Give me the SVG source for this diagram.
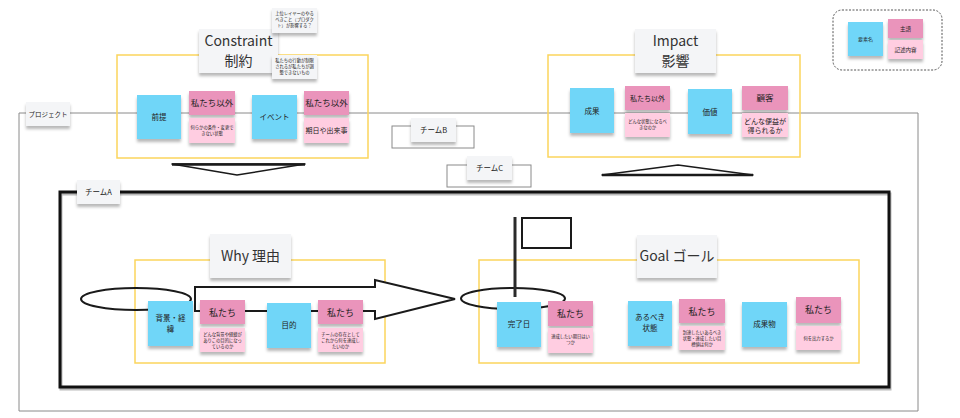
<svg xmlns="http://www.w3.org/2000/svg" width="960" height="418" viewBox="0 0 960 418">
<defs>
<filter id="sh" x="-20%" y="-20%" width="140%" height="170%">
<feDropShadow dx="0" dy="3" stdDeviation="1.5" flood-color="#000" flood-opacity="0.28"/>
</filter>
<style>
.blue{fill:#6fd6f8;filter:url(#sh)}
.pink{fill:#ea94bb;filter:url(#sh)}
.lpink{fill:#ffcde1;filter:url(#sh)}
.ttl{fill:#f4f5f7;filter:url(#sh)}
.yb{fill:none;stroke:#fbd55c;stroke-width:1.5}
.t{font-family:"Noto Sans CJK JP","Noto Sans",sans-serif;fill:#222;text-anchor:middle}
.s{font-size:4.3px}
.m{font-size:7.5px}
.p{font-size:8.5px}
.big{font-size:14px;fill:#333}
.gray{fill:none;stroke:#8a8a8a;stroke-width:1}
.blk{fill:none;stroke:#1a1a1a;stroke-width:2}
</style>
</defs>
<rect width="960" height="418" fill="#fff"/>

<g id="project">
<path d="M19 411 V113 H918 V411 Z" class="gray" stroke="#9a9a9a"/>
</g>

<g id="constraint-frame"><rect x="117" y="55" width="251" height="103" class="yb"/></g>
<g id="impact-frame"><rect x="548" y="55" width="252" height="102" class="yb"/></g>

<g id="teamB-frame"><rect x="392" y="126" width="82" height="22" class="gray"/></g>
<g id="teamC-frame"><rect x="447" y="165" width="84" height="22" class="gray"/></g>

<g id="teamA-frame"><rect x="61" y="194" width="829" height="195" fill="none" stroke="#bbb" stroke-width="3"/><rect x="60" y="192" width="829" height="195" fill="none" stroke="#111" stroke-width="3"/></g>

<g id="why-frame"><rect x="135" y="260" width="250" height="103" class="yb"/></g>
<g id="goal-frame"><rect x="479" y="260" width="380" height="103" class="yb"/></g>

<g id="connectors">
<polygon points="172,164 305,164 237,175" fill="#fff" stroke="#1a1a1a" stroke-width="1.5" stroke-linejoin="round"/>
<line x1="172" y1="164.5" x2="305" y2="164.5" stroke="#1a1a1a" stroke-width="2.5"/>
<polygon points="678,165 753,175 602,175" fill="#fff" stroke="#1a1a1a" stroke-width="1.5" stroke-linejoin="round"/>
<line x1="602" y1="175" x2="753" y2="175" stroke="#1a1a1a" stroke-width="2.5"/>
<ellipse cx="136" cy="299" rx="55" ry="11" class="blk"/>
<polygon points="195,287 375,287 375,280 455,299 375,319 375,311 195,311" fill="#fff" stroke="#1a1a1a" stroke-width="2" stroke-linejoin="miter"/>
<ellipse cx="513" cy="298.5" rx="52" ry="10.5" class="blk"/>
<line x1="515" y1="217" x2="515" y2="297" stroke="#2a2a2a" stroke-width="3"/>
<rect x="522" y="218" width="49" height="30" fill="#fff" stroke="#1a1a1a" stroke-width="2"/>
</g>

<g id="project-label"><rect x="26" y="102" width="44" height="24" class="ttl"/><text x="48" y="116.5" class="t" font-size="6.5">プロジェクト</text></g>
<g id="teamB-label"><rect x="411" y="118" width="45" height="24" class="ttl"/><text x="433.5" y="133" class="t m">チームB</text></g>
<g id="teamC-label"><rect x="467" y="156" width="45" height="24" class="ttl"/><text x="489.5" y="171" class="t m">チームC</text></g>
<g id="teamA-label"><rect x="77" y="180" width="43" height="24" class="ttl"/><text x="98.5" y="195" class="t m">チームA</text></g>

<g id="constraint-title"><rect x="199" y="29" width="79" height="44" class="ttl"/><text x="238.5" y="46" class="t big" font-size="12.5">Constraint</text><text x="238.5" y="66" class="t big" font-size="13">制約</text></g>
<g id="note-upper"><rect x="272" y="8" width="45" height="25" class="ttl"/><text class="t s" x="294.5" y="15"><tspan x="294.5">上位レイヤーのやる</tspan><tspan x="294.5" dy="6">べきこと（プロダク</tspan><tspan x="294.5" dy="6">ト）が影響する？</tspan></text></g>
<g id="note-limit"><rect x="272" y="55" width="45" height="24" class="ttl"/><text class="t s" x="294.5" y="62"><tspan x="294.5">私たちの行動が制限</tspan><tspan x="294.5" dy="6">されるが私たちが調</tspan><tspan x="294.5" dy="6">整できないもの</tspan></text></g>

<g id="c-premise"><rect x="137" y="95" width="44" height="44" class="blue"/><text x="159" y="120" class="t m">前提</text></g>
<g id="c-premise-subj"><rect x="189" y="91" width="46" height="24" class="pink"/><text x="212" y="106" class="t p">私たち以外</text></g>
<g id="c-premise-desc"><rect x="189" y="118" width="46" height="25" class="lpink"/><text class="t s" x="212" y="129"><tspan x="212">何らかの条件・変更で</tspan><tspan x="212" dy="6">きない状態</tspan></text></g>
<g id="c-event"><rect x="252" y="95" width="45" height="44" class="blue"/><text x="274.5" y="120" class="t m">イベント</text></g>
<g id="c-event-subj"><rect x="304" y="91" width="45" height="24" class="pink"/><text x="326.5" y="106" class="t p">私たち以外</text></g>
<g id="c-event-desc"><rect x="304" y="118" width="45" height="25" class="lpink"/><text x="326.5" y="133" class="t" font-size="7">期日や出来事</text></g>

<g id="impact-title"><rect x="635" y="29" width="81" height="44" class="ttl"/><text x="675.5" y="46" class="t big" font-size="12.5">Impact</text><text x="675.5" y="66" class="t big" font-size="13">影響</text></g>
<g id="i-result"><rect x="570" y="88" width="44" height="45" class="blue"/><text x="592" y="113.5" class="t m">成果</text></g>
<g id="i-result-subj"><rect x="625" y="86" width="45" height="24" class="pink"/><text x="647.5" y="100.5" class="t" font-size="7">私たち以外</text></g>
<g id="i-result-desc"><rect x="625" y="113" width="45" height="24" class="lpink"/><text class="t s" x="647.5" y="123"><tspan x="647.5">どんな状態になるべ</tspan><tspan x="647.5" dy="6">きなのか</tspan></text></g>
<g id="i-value"><rect x="688" y="89" width="44" height="45" class="blue"/><text x="710" y="114.5" class="t m">価値</text></g>
<g id="i-value-subj"><rect x="742" y="86" width="46" height="24" class="pink"/><text x="765" y="101" class="t p">顧客</text></g>
<g id="i-value-desc"><rect x="742" y="113" width="46" height="24" class="lpink"/><text class="t" font-size="7" x="765" y="123.5"><tspan x="765">どんな便益が</tspan><tspan x="765" dy="9">得られるか</tspan></text></g>

<g id="legend"><rect x="833" y="10" width="109" height="60" rx="9" fill="none" stroke="#555" stroke-width="1" stroke-dasharray="2,1.5"/>
<rect x="848" y="22" width="35" height="34" class="blue"/><text x="865.5" y="41" class="t" font-size="5">要素名</text>
<rect x="888" y="19" width="35" height="19" class="pink"/><text x="905.5" y="30.5" class="t" font-size="5.5">主語</text>
<rect x="888" y="40" width="35" height="19" class="lpink"/><text x="905.5" y="51.5" class="t" font-size="5.5">記述内容</text></g>

<g id="why-title"><rect x="210" y="234" width="81" height="44" class="ttl"/><text x="250.5" y="261" class="t big" font-size="15">Why 理由</text></g>
<g id="w-background"><rect x="148" y="301" width="45" height="45" class="blue"/><text class="t m" x="170.5" y="321"><tspan x="170.5">背景・経</tspan><tspan x="170.5" dy="11">緯</tspan></text></g>
<g id="w-background-subj"><rect x="200" y="300" width="45" height="24" class="pink"/><text x="222.5" y="315.5" class="t" font-size="9">私たち</text></g>
<g id="w-background-desc"><rect x="200" y="328" width="45" height="24" class="lpink"/><text class="t s" x="222.5" y="335.5"><tspan x="222.5">どんな背景や経緯が</tspan><tspan x="222.5" dy="6">ありこの目的になっ</tspan><tspan x="222.5" dy="6">ているのか</tspan></text></g>
<g id="w-purpose"><rect x="267" y="303" width="44" height="45" class="blue"/><text x="289" y="328" class="t m">目的</text></g>
<g id="w-purpose-subj"><rect x="318" y="300" width="45" height="24" class="pink"/><text x="340.5" y="315.5" class="t" font-size="9">私たち</text></g>
<g id="w-purpose-desc"><rect x="318" y="328" width="45" height="24" class="lpink"/><text class="t s" x="340.5" y="335.5"><tspan x="340.5">チームの存在として</tspan><tspan x="340.5" dy="6">これから何を達成し</tspan><tspan x="340.5" dy="6">たいのか</tspan></text></g>

<g id="goal-title"><rect x="637" y="235" width="80" height="43" class="ttl"/><text x="677" y="261" class="t big">Goal ゴール</text></g>
<g id="g-date"><rect x="497" y="302" width="44" height="45" class="blue"/><text x="519" y="327" class="t m">完了日</text></g>
<g id="g-date-subj"><rect x="548" y="301" width="45" height="25" class="pink"/><text x="570.5" y="316.5" class="t" font-size="9">私たち</text></g>
<g id="g-date-desc"><rect x="548" y="328" width="45" height="25" class="lpink"/><text class="t s" x="570.5" y="338"><tspan x="570.5">達成したい期日はい</tspan><tspan x="570.5" dy="6">つか</tspan></text></g>
<g id="g-state"><rect x="628" y="301" width="44" height="45" class="blue"/><text class="t m" x="650" y="320"><tspan x="650">あるべき</tspan><tspan x="650" dy="11">状態</tspan></text></g>
<g id="g-state-subj"><rect x="679" y="299" width="46" height="24" class="pink"/><text x="702" y="314.5" class="t" font-size="9">私たち</text></g>
<g id="g-state-desc"><rect x="679" y="326" width="46" height="24" class="lpink"/><text class="t s" x="702" y="333.5"><tspan x="702">到達したいあるべき</tspan><tspan x="702" dy="6">状態・達成したい目</tspan><tspan x="702" dy="6">標値は何か</tspan></text></g>
<g id="g-deliverable"><rect x="742" y="302" width="45" height="45" class="blue"/><text x="764.5" y="327" class="t m">成果物</text></g>
<g id="g-deliverable-subj"><rect x="796" y="297" width="45" height="26" class="pink"/><text x="818.5" y="313" class="t" font-size="9">私たち</text></g>
<g id="g-deliverable-desc"><rect x="796" y="326" width="45" height="24" class="lpink"/><text x="818.5" y="339.5" class="t s">何を出力するか</text></g>
</svg>
